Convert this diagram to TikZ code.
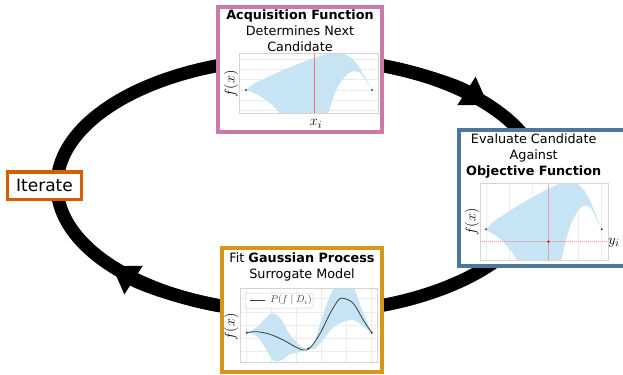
\documentclass[tikz,border=0pt]{standalone}
\usepackage{fontspec}
\setmainfont{DejaVu Sans}
\usetikzlibrary{arrows.meta}

\definecolor{acqpink}{RGB}{204,121,167}
\definecolor{evalblue}{RGB}{78,118,155}
\definecolor{fitgold}{RGB}{212,152,24}
\definecolor{iterorange}{RGB}{213,94,0}
\definecolor{bandblue}{RGB}{198,228,243}
\definecolor{gridgray}{RGB}{236,236,236}
\definecolor{framegray}{RGB}{212,212,212}
\definecolor{markred}{RGB}{236,120,120}
\definecolor{meangray}{RGB}{60,60,60}

\tikzset{
  ring/.style={draw=black, line width=13bp},
  panel/.style={draw=#1, line width=4bp, fill=white, inner sep=0pt},
  caption/.style={font=\fontsize{12.8bp}{16bp}\selectfont, align=center, inner sep=0pt},
  axislabel/.style={font=\fontsize{15bp}{18bp}\selectfont, inner sep=0pt},
  plotframe/.style={draw=framegray, line width=0.6bp},
  gridline/.style={draw=gridgray, line width=0.5bp},
  obsdot/.style={fill=meangray},
  ringtip/.style={ring, -{Triangle[length=26bp,width=32bp]}}
}

% posterior band with two observations, in unit data coordinates
\newcommand{\bandtwo}{%
  \fill[bandblue] plot[smooth, tension=0.6] coordinates {(0,0.39) (0.06,0.49) (0.14,0.57) (0.24,0.67) (0.4,0.81) (0.55,0.93) (0.65,0.99) (0.75,1.0) (0.82,0.95) (0.88,0.82) (0.94,0.62) (1,0.39)}
    -- plot[smooth, tension=0.6] coordinates {(1,0.39) (0.95,0.55) (0.9,0.68) (0.84,0.70) (0.78,0.6) (0.73,0.45) (0.69,0.25) (0.65,0.0) (0.58,-0.3) (0.45,-0.45) (0.34,-0.3) (0.27,-0.02) (0.21,0.13) (0.11,0.29) (0,0.39)} -- cycle;}

\begin{document}
\begin{tikzpicture}[x=1bp, y=-1bp]
\useasboundingbox (0,0) rectangle (623,374);
\clip (0,0) rectangle (623,374);

% the iteration loop
\coordinate (c) at (300,185.5);
\draw[ring] (c) ellipse [x radius=243, y radius=127.4];
\draw[ringtip] (c) ++(290:243 and 127.4) arc[start angle=290, end angle=320.8, x radius=243, y radius=127.4];
\draw[ringtip] (c) ++(110:243 and 127.4) arc[start angle=110, end angle=140.8, x radius=243, y radius=127.4];

% ---------- acquisition function panel ----------
\node[panel=acqpink, minimum width=164bp, minimum height=125bp] (acq) at (300,69.5) {};
\node[caption] (acqtxt) at (300,31) {\textbf{Acquisition Function}\\Determines Next\\Candidate};
\begin{scope}
  \clip (239,53) rectangle (378,113);
  \begin{scope}[shift={(246,113.3)}, x=126bp, y=60bp]
    \foreach \v in {0.05,0.22,0.39,0.56,0.73,0.9} \draw[gridline] (-0.1,\v) -- (1.1,\v);
    \bandtwo
  \end{scope}
\end{scope}
\draw[markred, line width=0.6bp] (314.7,53) -- (314.7,113);
\draw[plotframe] (239,53) rectangle (378,113);
\fill[obsdot] (246,89.9) circle (1.1bp);
\fill[obsdot] (372,89.9) circle (1.1bp);
\node[axislabel, rotate=90] (acqy) at (231,84) {$f(x)$};
\node[axislabel] (acqx) at (316,124) {$x_i$};

% ---------- evaluation panel ----------
\node[panel=evalblue, minimum width=181bp, minimum height=136bp] (eval) at (549.5,198) {};
\node[caption] (evaltxt) at (533.7,156) {Evaluate Candidate\\Against\\\textbf{Objective Function}};
\begin{scope}
  \clip (480,183) rectangle (608,260);
  \begin{scope}[shift={(486,260)}, x=115.7bp, y=77.3bp]
    \foreach \u in {0,0.2,0.4,0.6,0.8,1} \draw[gridline] (\u,-0.1) -- (\u,1.1);
    \bandtwo
  \end{scope}
\end{scope}
\draw[markred, line width=0.5bp, opacity=0.6] (548.4,183) -- (548.4,260);
\draw[markred, line width=0.9bp, dash pattern=on 1bp off 1bp, opacity=0.8] (480,241.7) -- (608,241.7);
\draw[plotframe] (480,183) rectangle (608,260);
\fill[obsdot] (486,229.3) circle (1.1bp);
\fill[obsdot] (601.7,229.3) circle (1.1bp);
\fill[red!85!black] (548.4,241.7) circle (1.3bp);
\node[axislabel, rotate=90] (evaly) at (472,222) {$f(x)$};
\node[axislabel] (evalyi) at (614,243) {$y_i$};

% ---------- surrogate model panel ----------
\node[panel=fitgold, minimum width=160bp, minimum height=124bp] (fit) at (302,310) {};
\node[caption] (fittxt) at (302,267) {Fit \textbf{Gaussian Process}\\Surrogate Model};
\begin{scope}
  \clip (240,288) rectangle (377,362);
  \begin{scope}[shift={(246.7,361.7)}, x=125bp, y=73.3bp]
    \foreach \u in {0,0.2,0.4,0.6,0.8,1} \draw[gridline] (\u,-0.1) -- (\u,1.1);
    \foreach \v in {0.14,0.32,0.5,0.68,0.86} \draw[gridline] (-0.1,\v) -- (1.1,\v);
    \fill[bandblue] plot[smooth, tension=0.6] coordinates {(0,0.395) (0.08,0.47) (0.15,0.59) (0.21,0.66) (0.28,0.57) (0.34,0.38) (0.42,0.23) (0.493,0.182) (0.54,0.26) (0.587,0.52) (0.64,0.78) (0.693,0.99) (0.773,1.18) (0.853,1.02) (0.92,0.72) (1,0.395)}
      -- plot[smooth, tension=0.6] coordinates {(1,0.395) (0.92,0.5) (0.853,0.568) (0.773,0.545) (0.693,0.468) (0.64,0.364) (0.587,0.25) (0.54,0.17) (0.493,0.182) (0.42,0.13) (0.34,0.1) (0.28,0.02) (0.21,0.02) (0.15,0.19) (0.08,0.35) (0,0.395)} -- cycle;
    \draw[meangray, line width=0.8bp] plot[smooth, tension=0.6] coordinates {(0,0.395) (0.08,0.41) (0.187,0.373) (0.293,0.295) (0.387,0.205) (0.453,0.159) (0.507,0.19) (0.587,0.386) (0.667,0.659) (0.733,0.84) (0.773,0.864) (0.853,0.795) (0.933,0.568) (1,0.395)};
    \fill[obsdot] (0,0.395) circle (1.1bp);
    \fill[obsdot] (0.493,0.182) circle (1.1bp);
    \fill[obsdot] (1,0.395) circle (1.1bp);
  \end{scope}
\end{scope}
\draw[plotframe] (240,288) rectangle (377,362);
\node[draw=framegray, line width=0.5bp, rounded corners=1.5bp, fill=white, fill opacity=0.8, minimum width=68bp, minimum height=15bp, inner sep=0pt] (legend) at (279,300.5) {};
\draw[meangray, line width=0.8bp] (250,300.5) -- (265,300.5);
\node[font=\fontsize{9.5bp}{10bp}\selectfont, text=meangray, inner sep=0pt] (legendtxt) at (291,300.5) {$P(f\mid D_i)$};
\node[axislabel, rotate=90] (fity) at (231,327) {$f(x)$};

% ---------- iterate label ----------
\node[panel=iterorange, line width=3.5bp, minimum width=73.5bp, minimum height=27.5bp, font=\fontsize{17bp}{20bp}\selectfont] (iter) at (44.5,185.5) {Iterate};

\end{tikzpicture}
\end{document}
